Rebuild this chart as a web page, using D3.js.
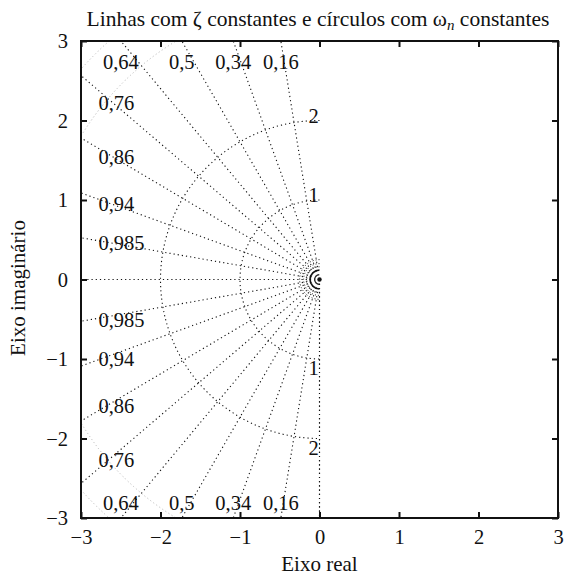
<!DOCTYPE html>
<html>
<head>
<meta charset="utf-8">
<script src="https://cdn.jsdelivr.net/npm/d3@7"></script>
<style>
  body { margin: 0; background: #fff; }
  text { font-family: "Liberation Serif", "Times New Roman", serif; fill: #111; }
</style>
</head>
<body>
<svg></svg>
<script>
// damping ratios (zeta) with their labels
const zetaValues = [0.16, 0.34, 0.5, 0.64, 0.76, 0.86, 0.94, 0.985];
const zetaLabels = ["0,16", "0,34", "0,5", "0,64", "0,76", "0,86", "0,94", "0,985"];
const edgeZeta = [0, 1];
// natural frequency circles
const wnValues = [1, 2];
const wnLabels = ["1", "2"];
const smallWn = [0.12, 0.16, 0.2, 0.25];
const outerWn = [3.5, 4];
// axes
const tickValues = [-3, -2, -1, 0, 1, 2, 3];
const tickLabels = ["\u22123", "\u22122", "\u22121", "0", "1", "2", "3"];

const width = 566, height = 575;
const svg = d3.select("svg").attr("width", width).attr("height", height);

const x = d3.scaleLinear().domain([-3, 3]).range([81, 558]);
const y = d3.scaleLinear().domain([-3, 3]).range([518, 41]);

svg.append("defs").append("clipPath").attr("id", "plot")
  .append("rect")
  .attr("x", x(-3)).attr("y", y(3))
  .attr("width", x(3) - x(-3)).attr("height", y(-3) - y(3));

const grid = svg.append("g").attr("clip-path", "url(#plot)");

// half circle on the left side
function arcPath(r) {
  const rx = x(r) - x(0), ry = y(0) - y(r);
  return `M${x(0)},${y(r)} A${rx},${ry} 0 0 0 ${x(0)},${y(-r)}`;
}

grid.selectAll("path.wn")
  .data(wnValues)
  .enter().append("path")
  .attr("class", "wn")
  .attr("d", d => arcPath(d))
  .attr("fill", "none")
  .attr("stroke", "#111")
  .attr("stroke-width", 1.1)
  .attr("stroke-dasharray", "1.2,3");

grid.selectAll("path.outer")
  .data(outerWn)
  .enter().append("path")
  .attr("class", "outer")
  .attr("d", d => arcPath(d))
  .attr("fill", "none")
  .attr("stroke", "#bbb")
  .attr("stroke-width", 1)
  .attr("stroke-dasharray", "1.2,2.5");

grid.selectAll("path.small")
  .data(smallWn)
  .enter().append("path")
  .attr("class", "small")
  .attr("d", d => arcPath(d))
  .attr("fill", "none")
  .attr("stroke", "#111")
  .attr("stroke-width", (d, i) => i === 0 ? 1.5 : 1)
  .attr("stroke-dasharray", (d, i) => i === 0 ? null : "1,2");

// constant zeta rays (upper and lower)
const rays = [];
zetaValues.concat(edgeZeta).forEach(z => {
  const s = Math.sqrt(1 - z * z);
  rays.push({ z: z, dx: -z, dy: s });
  if (s > 0) rays.push({ z: z, dx: -z, dy: -s });
});

grid.selectAll("line.zeta")
  .data(rays)
  .enter().append("line")
  .attr("class", "zeta")
  .attr("x1", x(0)).attr("y1", y(0))
  .attr("x2", d => x(d.dx * 6))
  .attr("y2", d => d.z === 0 ? y(-6) : y(d.dy * 6))
  .attr("stroke", "#111")
  .attr("stroke-width", 1.1)
  .attr("stroke-dasharray", "1.2,3");

svg.append("circle")
  .attr("cx", x(0)).attr("cy", y(0)).attr("r", 2.2)
  .attr("fill", "#111");

// zeta labels
const labels = svg.append("g").attr("font-size", 20.5);
zetaValues.forEach((z, i) => {
  const t = Math.sqrt(1 - z * z) / z;
  [1, -1].forEach(sign => {
    if (t > 1) {
      labels.append("text")
        .attr("x", x(-3 / t))
        .attr("y", sign > 0 ? y(3) + 21 : y(-3) - 15)
        .attr("text-anchor", "middle")
        .attr("dominant-baseline", "central")
        .text(zetaLabels[i]);
    } else {
      labels.append("text")
        .attr("x", x(-2.78))
        .attr("y", y(sign * 2.6 * t) + (sign > 0 ? 0 : 4))
        .attr("text-anchor", "start")
        .attr("dominant-baseline", "central")
        .text(zetaLabels[i]);
    }
  });
});

// wn labels
wnValues.forEach((w, i) => {
  labels.append("text")
    .attr("x", x(-0.01)).attr("y", y(w) + 2)
    .attr("text-anchor", "end")
    .text(wnLabels[i]);
  labels.append("text")
    .attr("x", x(-0.01)).attr("y", y(-w) + 2)
    .attr("text-anchor", "end")
    .attr("dominant-baseline", "hanging")
    .text(wnLabels[i]);
});

// axes
const fmt = (d, i) => tickLabels[i];
function styleAxis(g) {
  g.select(".domain").remove();
  g.selectAll("line").attr("stroke", "#111").attr("stroke-width", 2);
  g.selectAll("text").attr("font-size", 20.5).attr("font-family", null).attr("fill", "#111");
}
svg.append("g").attr("transform", `translate(0,${y(-3)})`)
  .call(d3.axisBottom(x).tickValues(tickValues).tickFormat(fmt).tickSizeInner(-6).tickSizeOuter(0).tickPadding(11))
  .call(styleAxis);
svg.append("g").attr("transform", `translate(0,${y(3)})`)
  .call(d3.axisTop(x).tickValues(tickValues).tickFormat("").tickSizeInner(-6).tickSizeOuter(0))
  .call(styleAxis);
svg.append("g").attr("transform", `translate(${x(-3)},0)`)
  .call(d3.axisLeft(y).tickValues(tickValues).tickFormat(fmt).tickSizeInner(-6).tickSizeOuter(0).tickPadding(13))
  .call(styleAxis);
svg.append("g").attr("transform", `translate(${x(3)},0)`)
  .call(d3.axisRight(y).tickValues(tickValues).tickFormat("").tickSizeInner(-6).tickSizeOuter(0))
  .call(styleAxis);

// frame
svg.append("rect")
  .attr("x", x(-3)).attr("y", y(3))
  .attr("width", x(3) - x(-3)).attr("height", y(-3) - y(3))
  .attr("fill", "none").attr("stroke", "#111").attr("stroke-width", 2);

// title and axis names
const title = svg.append("text")
  .attr("x", 318).attr("y", 26)
  .attr("text-anchor", "middle")
  .attr("font-size", 21.5);
title.append("tspan").text("Linhas com \u03b6 constantes e c\u00edrculos com \u03c9");
title.append("tspan").attr("font-style", "italic").attr("font-size", 15).attr("dy", 4).text("n");
title.append("tspan").attr("dy", -4).text(" constantes");

svg.append("text")
  .attr("x", x(0)).attr("y", 571)
  .attr("text-anchor", "middle")
  .attr("font-size", 21)
  .text("Eixo real");

svg.append("text")
  .attr("transform", "translate(25,288) rotate(-90)")
  .attr("text-anchor", "middle")
  .attr("font-size", 21)
  .text("Eixo imagin\u00e1rio");
</script>
</body>
</html>
